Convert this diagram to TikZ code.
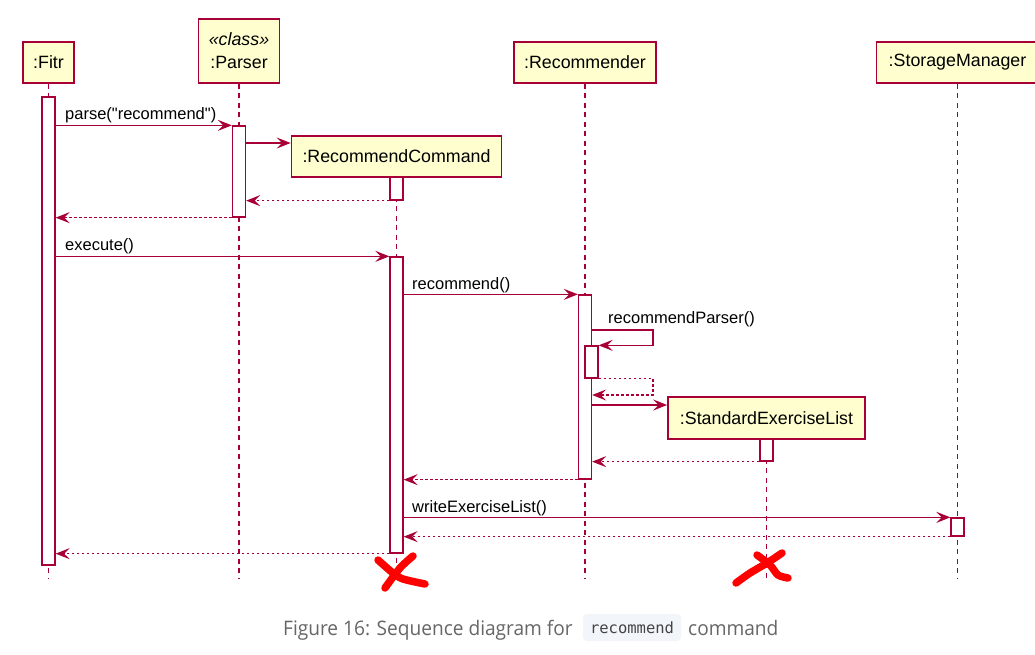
\documentclass[tikz,border=0pt]{standalone}
\usepackage{fontspec}
\setmainfont{Liberation Sans}
\newfontfamily\capfont{Open Sans}
\newfontfamily\codefont{DejaVu Sans Mono}
\font\qfont="Liberation Sans" at 16.5pt
\usetikzlibrary{arrows.meta}
\definecolor{puborder}{HTML}{A80036}
\definecolor{pufill}{HTML}{FEFECE}
\definecolor{capgray}{HTML}{666666}
\definecolor{codebg}{HTML}{F2F5F9}
\definecolor{codetext}{HTML}{444444}
\begin{document}
\begin{tikzpicture}[x=1pt,y=-1pt,
  part/.style={draw=puborder, fill=pufill, line width=1.7pt, inner sep=0pt,
    font=\fontsize{17.8}{23}\selectfont, text=black, align=center},
  bar/.style={draw=puborder, fill=white, line width=1.3pt, minimum width=13pt, inner sep=0pt},
  life/.style={draw=puborder, line width=1.3pt, dash pattern=on 5pt off 4.5pt},
  msg/.style={draw=puborder, line width=1.3pt, -{Stealth[length=14pt,width=11pt,inset=5.5pt]}},
  ret/.style={msg, dash pattern=on 2.5pt off 2.5pt},
  lbl/.style={font=\fontsize{16.5}{19}\selectfont, anchor=base west, inner sep=0pt, text=black},
  xmark/.style={draw=red, line width=7.5pt, line cap=round, line join=round}
]
\clip (0,0) rectangle (1035,654);
\fill[white] (0,0) rectangle (1035,654);

% participants
\node[part, minimum width=51pt, minimum height=41pt] (fitr) at (48.5,62.5) {:Fitr};
\node[part, minimum width=81pt, minimum height=64pt] (parser) at (239,51) {{\itshape «class»}\\:Parser};
\node[part, minimum width=210pt, minimum height=41pt] (rc) at (396.5,156.5) {:RecommendCommand};
\node[part, minimum width=142pt, minimum height=41pt] (rec) at (585,62.5) {:Recommender};
\node[part, minimum width=197pt, minimum height=42pt] (sel) at (766.5,418) {:StandardExerciseList};
\node[part, minimum width=162pt, minimum height=41pt] (sm) at (957.5,62.5) {:StorageManager};

% lifelines
\draw[life] (fitr.south) -- (fitr.south |- 0,578);
\draw[life] (parser.south) -- (parser.south |- 0,578);
\draw[life] (rc.south) -- (rc.south |- 0,578);
\draw[life] (rec.south) -- (rec.south |- 0,578);
\draw[life] (sel.south) -- (sel.south |- 0,578);
\draw[life] (sm.south) -- (sm.south |- 0,578);

% activation bars
\node[bar, minimum height=468pt] (fitrbar) at (48.5,331) {};
\node[bar, minimum height=91pt] (parserbar) at (239,171.5) {};
\node[bar, minimum height=23pt] (rcbar1) at (396.5,188.5) {};
\node[bar, minimum height=296pt] (rcbar2) at (396.5,405) {};
\node[bar, minimum height=184pt] (recbar) at (585,387) {};
\node[bar, minimum height=32pt] (recbar2) at (591.5,362) {};
\node[bar, minimum height=22pt] (selbar) at (766.5,450) {};
\node[bar, minimum height=18pt] (smbar) at (957.5,527) {};

\coordinate (selfR) at (653,0);

% messages
\draw[msg] (fitrbar.east |- parserbar.north) -- (parserbar.north west);
\node[lbl] (l1) at (65,119) {parse({\qfont\char34}recommend{\qfont\char34})};
\draw[msg] (parserbar.east |- 0,143) -- (rc.west |- 0,143);
\draw[ret] (rcbar1.south west) -- (parserbar.east |- rcbar1.south);
\draw[ret] (parserbar.south west) -- (fitrbar.east |- parserbar.south);
\draw[msg] (fitrbar.east |- rcbar2.north) -- (rcbar2.north west);
\node[lbl] (l2) at (65,250) {execute()};
\draw[msg] (rcbar2.east |- recbar.north) -- (recbar.north west);
\node[lbl] (l3) at (412,289) {recommend()};
\draw[msg] (recbar.east |- 0,330) -- (selfR |- 0,330) -- (selfR |- recbar2.north) -- (recbar2.north east);
\node[lbl] (l4) at (608,323) {recommendParser()};
\draw[ret] (recbar2.south east) -- (selfR |- recbar2.south) -- (selfR |- 0,395) -- (recbar.east |- 0,395);
\draw[msg] (recbar.east |- 0,405) -- (sel.west |- 0,405);
\draw[ret] (selbar.south west) -- (recbar.east |- selbar.south);
\draw[ret] (recbar.south west) -- (rcbar2.east |- recbar.south);
\draw[msg] (rcbar2.east |- smbar.north) -- (smbar.north west);
\node[lbl] (l5) at (412,512) {writeExerciseList()};
\draw[ret] (smbar.south west) -- (rcbar2.east |- smbar.south);
\draw[ret] (rcbar2.south west) -- (fitrbar.east |- rcbar2.south);

% red crosses
\draw[xmark] plot[smooth] coordinates {(378,560) (393,573) (403,579) (425,584)};
\draw[xmark] plot[smooth] coordinates {(413,556) (400,568) (385,588)};
\draw[xmark] plot[smooth] coordinates {(736,583) (750,573) (767,563) (782,553)};
\draw[xmark] plot[smooth] coordinates {(757,555) (770,565) (778,575) (788,578)};

% caption
\node[anchor=base west, inner sep=0pt, text=capgray, font=\capfont\fontsize{20}{24}\selectfont] (cap1) at (283,635) {\scalebox{0.955}[1]{Figure 16: Sequence diagram for}};
\node[fill=codebg, rounded corners=4pt, minimum width=98pt, minimum height=27pt, inner sep=0pt,
  text=codetext, font=\codefont\fontsize{15.5}{18}\selectfont] (code) at (632,627.5) {recommend};
\node[anchor=base west, inner sep=0pt, text=capgray, font=\capfont\fontsize{20}{24}\selectfont] (cap2) at (688,635) {\scalebox{0.955}[1]{command}};
\end{tikzpicture}
\end{document}
